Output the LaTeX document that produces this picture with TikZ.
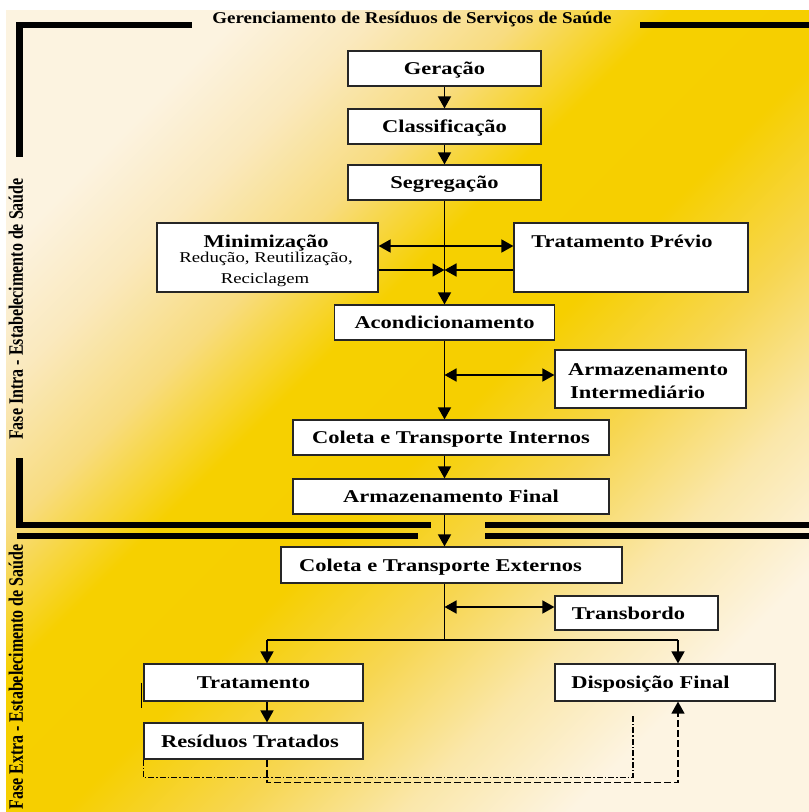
\documentclass[tikz,border=0pt]{standalone}
\usepackage{fontspec}
\setmainfont{Liberation Serif}
\newfontfamily\boxfam[FakeStretch=1.25]{Liberation Serif}
\newfontfamily\titlefam[FakeStretch=1.15]{Liberation Serif}
\newfontfamily\sidefam[FakeStretch=0.78]{Liberation Serif}
\usetikzlibrary{arrows.meta}
\definecolor{bgA}{HTML}{FCF3E0}
\definecolor{bgB}{HTML}{FAE9BE}
\definecolor{bgC}{HTML}{F8DC80}
\definecolor{bgD}{HTML}{F6D000}
\definecolor{bgE}{HTML}{F6CF00}
\definecolor{bgF}{HTML}{F7D650}
\definecolor{bgG}{HTML}{FAE7AA}
\definecolor{bgH}{HTML}{FDF4E2}
\pgfdeclarehorizontalshading{bgshade}{100bp}{color(0bp)=(bgA); color(25bp)=(bgA); color(31bp)=(bgB); color(37.5bp)=(bgC); color(44bp)=(bgD); color(52.5bp)=(bgE); color(60bp)=(bgF); color(67.5bp)=(bgG); color(75bp)=(bgH); color(100bp)=(bgH)}
\newcommand\myboxfont{\boxfam\bfseries\fontsize{18}{21}\selectfont}
\newcommand\mysubfont{\boxfam\fontsize{15}{18}\selectfont}
\begin{document}
\begin{tikzpicture}[x=1pt,y=-1pt,
 bx/.style={draw=black!85, line width=1.2pt, fill=white, inner sep=0pt, text height=12pt, text depth=0pt, font=\myboxfont},
 bt/.style={inner sep=0pt, font=\myboxfont, anchor=base},
 st/.style={inner sep=0pt, font=\mysubfont, anchor=base},
 ln/.style={line width=1.6pt},
 arr/.style={ln, -{Triangle[width=13pt,length=12pt]}},
 arrb/.style={ln, {Triangle[width=13pt,length=12pt]}-{Triangle[width=13pt,length=12pt]}},
 frm/.style={line width=6.5pt, line join=miter},
 dsh/.style={line width=1.3pt, dash pattern=on 7pt off 3pt},
 dsd/.style={line width=1.3pt, dash pattern=on 6pt off 2pt on 1.5pt off 2pt},
 side/.style={font=\sidefam\bfseries\fontsize{20.5}{22}\selectfont, inner sep=0pt, anchor=base, rotate=90}]

\useasboundingbox (0,0) rectangle (809,812);
\fill[white] (0,0) rectangle (809,812);
\shade[shading=bgshade, shading angle=-45] (6,10) rectangle (809,812);

% frame
\draw[frm] (192,25) -- (19.5,25) -- (19.5,157);
\draw[frm] (640,25) -- (809,25);
\draw[frm] (19.5,458) -- (19.5,525) -- (431,525);
\draw[frm] (485,525) -- (809,525);
\draw[frm] (17,536) -- (418,536);
\draw[frm] (485,536) -- (809,536);

% titles
\node[font=\titlefam\bfseries\fontsize{16.5}{18}\selectfont, inner sep=0pt, anchor=base] (title) at (412,23) {Gerenciamento de Resíduos de Serviços de Saúde};
\node[side] (intra) at (23,309) {Fase Intra - Estabelecimento de Saúde};
\node[side] (extra) at (23,677) {Fase Extra - Estabelecimento de Saúde};

% boxes
\node[bx, minimum width=193pt, minimum height=35pt] (ger) at (444.5,68.5) {Geração};
\node[bx, minimum width=193pt, minimum height=35pt] (cla) at (444.5,126.5) {Classificação};
\node[bx, minimum width=193pt, minimum height=35pt] (seg) at (444.5,182.5) {Segregação};
\node[bx, minimum width=221pt, minimum height=69pt] (min) at (267.5,257.5) {};
\node[bx, minimum width=234pt, minimum height=69pt] (tra) at (631,257.5) {};
\node[bx, minimum width=220pt, minimum height=35pt] (aco) at (444.5,322.5) {Acondicionamento};
\node[bx, minimum width=191pt, minimum height=58pt] (ai) at (650.5,379) {};
\node[bx, minimum width=316pt, minimum height=35pt] (cti) at (451,437.5) {Coleta e Transporte Internos};
\node[bx, minimum width=316pt, minimum height=35pt] (af) at (451,496.5) {Armazenamento Final};
\node[bx, minimum width=341pt, minimum height=36pt] (cte) at (451.5,565) {};
\node[bx, minimum width=163pt, minimum height=34pt] (tb) at (636.5,613) {};
\node[bx, minimum width=219pt, minimum height=37pt] (tr) at (253.5,682.5) {Tratamento};
\node[bx, minimum width=220pt, minimum height=37pt] (df) at (665,682.5) {};
\node[bx, minimum width=219pt, minimum height=36pt] (rt) at (253.5,741) {};

% texts
\node[bt] (mint) at (266,247) {Minimização};
\node[st] (mins1) at (266,262) {Redução, Reutilização,};
\node[st] (mins2) at (265,283) {Reciclagem};
\node[bt] (trat) at (622,247) {Tratamento Prévio};
\node[bt, anchor=base west] (ai1) at (568,375) {Armazenamento};
\node[bt, anchor=base west] (ai2) at (570,398) {Intermediário};
\node[bt] (ctet) at (440.5,571) {Coleta e Transporte Externos};
\node[bt] (tbt) at (628.5,619) {Transbordo};
\node[bt] (dft) at (650.5,688.5) {Disposição Final};
\node[bt] (rtt) at (250,747) {Resíduos Tratados};

% connectors
\coordinate (up) at (444.5,246);
\coordinate (lo) at (444.5,270);
\draw[arr] (ger) -- (cla);
\draw[arr] (cla) -- (seg);
\draw[arr] (seg) -- (aco);
\draw[arrb] (min.east |- up) -- (tra.west |- up);
\draw[arr] (min.east |- lo) -- (lo);
\draw[arr] (tra.west |- lo) -- (lo);
\coordinate (aix) at (444.5,375);
\draw[arrb] (aix) -- (ai.west |- aix);
\draw[arr] (aco.south) -- (aco.south |- cti.north);
\draw[arr] (aco.south |- cti.south) -- (aco.south |- af.north);
\draw[arr] (aco.south |- af.south) -- (aco.south |- cte.north);
\coordinate (tbx) at (444.5,607);
\draw[arrb] (tbx) -- (tb.west |- tbx);
\coordinate (br) at (444.5,640);
\draw[ln] (aco.south |- cte.south) -- (br);
\coordinate (brL) at (267,640);
\coordinate (brR) at (678,640);
\draw[ln] (brL) -- (brR);
\draw[arr] (brL) -- (brL |- tr.north);
\draw[arr] (brR) -- (brR |- df.north);
\draw[arr] (brL |- tr.south) -- (brL |- rt.north);
\draw[dsh, -{Triangle[width=13pt,length=12pt]}] (brL |- rt.south) -- ++(0,23) -| (brR |- df.south);
\coordinate (ddend) at (633,716);
\draw[dsd] (rt.south west) -- ++(0,18) -| (ddend);
\draw[line width=1pt] ([xshift=-2pt]tr.west) -- ++(0,25);
\end{tikzpicture}
\end{document}
